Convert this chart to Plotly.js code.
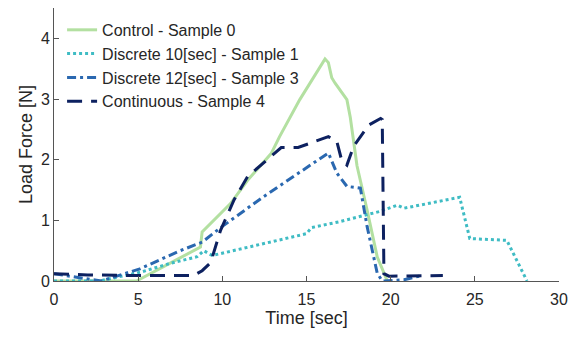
<!DOCTYPE html>
<html>
<head>
<meta charset="utf-8">
<script src="https://cdn.plot.ly/plotly-3.0.1.min.js"></script>
<style>html,body{margin:0;padding:0;background:#fff;}#chart{width:569px;height:337px;}</style>
</head>
<body>
<div id="chart"></div>
<script>
const seriesNames = ["Control - Sample 0", "Discrete 10[sec] - Sample 1", "Discrete 12[sec] - Sample 3", "Continuous - Sample 4"];

const controlX = [0, 4.9, 8.7, 8.8, 10.5, 11.5, 12.9, 13.4, 14.6, 16.1, 16.3, 16.5, 16.7, 17.4, 17.6, 17.75, 18.0, 18.6, 19.2, 19.8];
const controlY = [0, 0, 0.56, 0.81, 1.28, 1.66, 2.1, 2.38, 2.99, 3.66, 3.6, 3.35, 3.26, 2.99, 2.7, 2.4, 1.9, 1.17, 0.4, 0];

const disc10X = [0, 2.7, 5.2, 6.9, 8.5, 8.9, 9.4, 11.0, 15.0, 15.3, 17.0, 19.4, 20.4, 20.8, 24.1, 24.7, 26.9, 28.1];
const disc10Y = [0, 0, 0.15, 0.29, 0.40, 0.50, 0.42, 0.52, 0.78, 0.88, 0.98, 1.15, 1.25, 1.2, 1.38, 0.70, 0.67, 0];

const disc12X = [0, 2.8, 5.1, 7.5, 8.8, 9.9, 12.45, 13.8, 16.3, 16.8, 17.4, 18.2, 18.6, 19.2, 19.5, 20.8, 21.7];
const disc12Y = [0.12, 0, 0.2, 0.5, 0.64, 0.88, 1.39, 1.64, 2.11, 1.78, 1.56, 1.53, 0.9, 0.13, 0, 0.02, 0.08];

const contX = [0, 2, 5, 8.3, 8.8, 9.3, 9.9, 10.7, 11.5, 12.85, 13.5, 14.5, 16.3, 16.8, 17.1, 17.4, 17.8, 18.7, 19.4, 19.5, 19.6, 19.9, 23.1];
const contY = [0.12, 0.1, 0.09, 0.09, 0.17, 0.3, 0.84, 1.34, 1.72, 2.05, 2.2, 2.2, 2.38, 2.3, 1.98, 1.91, 2.22, 2.57, 2.68, 2.66, 0.12, 0.08, 0.09];

const xTicks = [0, 5, 10, 15, 20, 25, 30];
const yTicks = [0, 1, 2, 3, 4];

const traces = [
  {x: controlX, y: controlY, name: seriesNames[0], mode: 'lines', line: {color: '#b3e0a1', width: 3}},
  {x: disc10X, y: disc10Y, name: seriesNames[1], mode: 'lines', line: {color: '#3fbcc4', width: 3, dash: '3px,3px'}},
  {x: disc12X, y: disc12Y, name: seriesNames[2], mode: 'lines', line: {color: '#2a68b0', width: 3, dash: '9px,4px,3px,4px'}},
  {x: contX, y: contY, name: seriesNames[3], mode: 'lines', line: {color: '#0d2160', width: 3, dash: '15px,9px'}}
];

const layout = {
  width: 569, height: 337,
  margin: {l: 53.5, r: 10, t: 8, b: 56},
  paper_bgcolor: '#fff', plot_bgcolor: '#fff',
  font: {family: 'Liberation Sans, Arial, sans-serif', color: '#262626', size: 16},
  showlegend: true,
  legend: {x: 0.016, y: 0.982, xanchor: 'left', yanchor: 'top', bgcolor: 'rgba(0,0,0,0)',
           font: {size: 16, color: '#262626'}, itemwidth: 30, traceorder: 'normal'},
  xaxis: {range: [0, 30], tickvals: xTicks, ticktext: xTicks.map(String), ticks: 'inside', ticklen: 5,
          tickcolor: '#555', showline: true, linecolor: '#555', linewidth: 1, showgrid: false, zeroline: false,
          tickfont: {size: 16, color: '#262626'}, ticklabelstandoff: 4,
          title: {text: 'Time [sec]', font: {size: 18, color: '#262626'}, standoff: 4}},
  yaxis: {range: [0, 4.5], tickvals: yTicks, ticktext: yTicks.map(String), ticks: 'inside', ticklen: 5,
          tickcolor: '#555', showline: true, linecolor: '#555', linewidth: 1, showgrid: false, zeroline: false,
          tickfont: {size: 16, color: '#262626'},
          title: {text: 'Load Force [N]', font: {size: 18, color: '#262626'}, standoff: 3}}
};

Plotly.newPlot('chart', traces, layout, {displayModeBar: false, staticPlot: true});
</script>
</body>
</html>
